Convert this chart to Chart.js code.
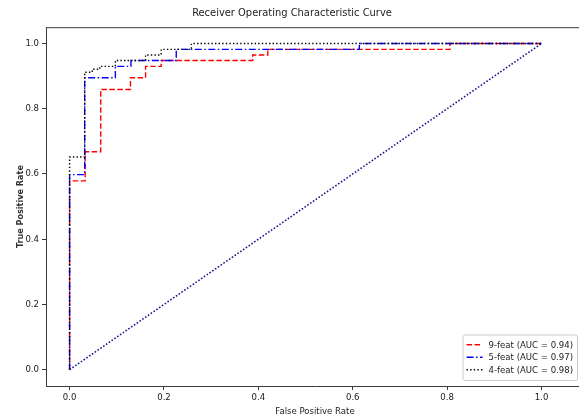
<!DOCTYPE html>
<html>
<head>
<meta charset="utf-8">
<script src="https://cdn.jsdelivr.net/npm/chart.js@4"></script>
<style>
    html, body { margin: 0; padding: 0; background: #fff; overflow: hidden; }
    #wrap { width: 579px; height: 418px; overflow: hidden; }
    canvas { display: block; }
</style>
</head>
<body>
<div id="wrap"><canvas id="roc" width="584" height="418"></canvas></div>
<script>
// ROC 曲線的階梯點
const FPR_9 = [0, 0, 0.033, 0.033, 0.066, 0.066, 0.129, 0.129, 0.161, 0.161, 0.194, 0.194, 0.388, 0.388, 0.42, 0.42, 0.806, 0.806, 1.0];
const TPR_9 = [0, 0.579, 0.579, 0.668, 0.668, 0.859, 0.859, 0.895, 0.895, 0.93, 0.93, 0.948, 0.948, 0.965, 0.965, 0.982, 0.982, 1.0, 1.0];

const FPR_5 = [0, 0, 0.032, 0.032, 0.097, 0.097, 0.13, 0.13, 0.226, 0.226, 0.614, 0.614, 1.0];
const TPR_5 = [0, 0.598, 0.598, 0.895, 0.895, 0.93, 0.93, 0.948, 0.948, 0.982, 0.982, 1.0, 1.0];

const FPR_4 = [0, 0, 0.032, 0.032, 0.048, 0.048, 0.064, 0.064, 0.097, 0.097, 0.161, 0.161, 0.194, 0.194, 0.258, 0.258, 1.0];
const TPR_4 = [0, 0.652, 0.652, 0.912, 0.912, 0.921, 0.921, 0.93, 0.93, 0.948, 0.948, 0.965, 0.965, 0.982, 0.982, 1.0, 1.0];

// 對角線（隨機猜測）
const DIAG_FPR = [0, 1];
const DIAG_TPR = [0, 1];

const LABELS = ['9-feat (AUC = 0.94)', '5-feat (AUC = 0.97)', '4-feat (AUC = 0.98)'];
const TICKS = [0, 0.2, 0.4, 0.6, 0.8, 1.0];

const FONT = '"DejaVu Sans Condensed", "Liberation Sans Narrow", "DejaVu Sans", sans-serif';
const AXIS_COLOR = '#3a3a3a';

function toPoints(xs, ys) {
    return xs.map((x, i) => ({ x: x, y: ys[i] }));
}

// 圖框上緣 + 右下角圖例
const legendInside = {
    id: 'legendInside',
    afterDraw(chart) {
        const ctx = chart.ctx;
        const a = chart.chartArea;
        ctx.save();
        ctx.strokeStyle = AXIS_COLOR;
        ctx.lineWidth = 1;
        ctx.beginPath();
        ctx.moveTo(a.left, a.top + 0.5);
        ctx.lineTo(a.right, a.top + 0.5);
        ctx.stroke();

        const sets = chart.data.datasets.filter(d => d.label);
        ctx.font = '9.5px ' + FONT;
        const textW = Math.max(...sets.map(d => ctx.measureText(d.label).width));
        const rowH = 12.5;
        const boxW = 4 + 16 + 6 + textW + 4;
        const boxH = rowH * sets.length + 8;
        const right = 577, bottom = a.bottom - 6;
        const left = right - boxW, top = bottom - boxH;

        ctx.fillStyle = 'rgba(255,255,255,0.85)';
        ctx.strokeStyle = '#cccccc';
        ctx.beginPath();
        ctx.roundRect(left + 0.5, top + 0.5, boxW, boxH, 2);
        ctx.fill();
        ctx.stroke();

        sets.forEach((d, i) => {
            const y = top + 4 + rowH * i + rowH / 2;
            ctx.strokeStyle = d.borderColor;
            ctx.lineWidth = d.borderWidth;
            ctx.setLineDash(d.borderDash || []);
            ctx.beginPath();
            ctx.moveTo(left + 4, y);
            ctx.lineTo(left + 20, y);
            ctx.stroke();
            ctx.setLineDash([]);
            ctx.fillStyle = '#222';
            ctx.textBaseline = 'middle';
            ctx.fillText(d.label, left + 26, y + 0.5);
        });
        ctx.restore();
    }
};

const ctx = document.getElementById('roc').getContext('2d');
new Chart(ctx, {
    type: 'scatter',
    data: {
        datasets: [
            {
                label: LABELS[0],
                data: toPoints(FPR_9, TPR_9),
                showLine: true,
                borderColor: '#ff0000',
                borderWidth: 1.4,
                borderDash: [5.5, 2.5],
                pointRadius: 0,
                order: 4
            },
            {
                label: LABELS[1],
                data: toPoints(FPR_5, TPR_5),
                showLine: true,
                borderColor: '#0000ff',
                borderWidth: 1.4,
                borderDash: [7, 2.5, 1.5, 2.5],
                pointRadius: 0,
                order: 3
            },
            {
                label: LABELS[2],
                data: toPoints(FPR_4, TPR_4),
                showLine: true,
                borderColor: '#000000',
                borderWidth: 1.4,
                borderDash: [1.4, 2.2],
                pointRadius: 0,
                order: 2
            },
            {
                label: '',
                data: toPoints(DIAG_FPR, DIAG_TPR),
                showLine: true,
                borderColor: '#1a1a8c',
                borderWidth: 1.6,
                borderDash: [1.6, 1.8],
                pointRadius: 0,
                order: 1
            }
        ]
    },
    options: {
        responsive: false,
        animation: false,
        devicePixelRatio: 1,
        layout: { padding: { left: 0, right: 0, top: 0, bottom: 0 } },
        plugins: {
            legend: { display: false },
            tooltip: { enabled: false },
            title: {
                display: true,
                text: 'Receiver Operating Characteristic Curve',
                color: '#222',
                font: { family: FONT, size: 11, weight: 'normal' },
                padding: { top: 7, bottom: 7 }
            }
        },
        scales: {
            x: {
                type: 'linear',
                min: -0.05,
                max: 1.09,
                afterBuildTicks: scale => { scale.ticks = TICKS.map(v => ({ value: v })); },
                afterFit: scale => { scale.height = 32; },
                ticks: {
                    autoSkip: false,
                    maxRotation: 0,
                    padding: 2,
                    color: '#222',
                    font: { family: FONT, size: 9.5 },
                    callback: v => v.toFixed(1)
                },
                grid: { drawOnChartArea: false, drawTicks: true, tickLength: 4, color: AXIS_COLOR },
                border: { display: true, color: AXIS_COLOR, width: 1 },
                title: {
                    display: true,
                    text: 'False Positive Rate',
                    color: '#222',
                    font: { family: FONT, size: 9.5 },
                    padding: { top: 0, bottom: 1 }
                }
            },
            y: {
                type: 'linear',
                min: -0.05,
                max: 1.05,
                afterBuildTicks: scale => { scale.ticks = TICKS.map(v => ({ value: v })); },
                afterFit: scale => { scale.width = 46; },
                ticks: {
                    autoSkip: false,
                    padding: 3,
                    color: '#222',
                    font: { family: FONT, size: 9.5 },
                    callback: v => v.toFixed(1)
                },
                grid: { drawOnChartArea: false, drawTicks: true, tickLength: 4, color: AXIS_COLOR },
                border: { display: true, color: AXIS_COLOR, width: 1 },
                title: {
                    display: true,
                    text: 'True Positive Rate',
                    color: '#333',
                    font: { family: FONT, size: 9, weight: 'bold' },
                    padding: { top: 15, bottom: 5 }
                }
            }
        }
    },
    plugins: [legendInside]
});
</script>
</body>
</html>
